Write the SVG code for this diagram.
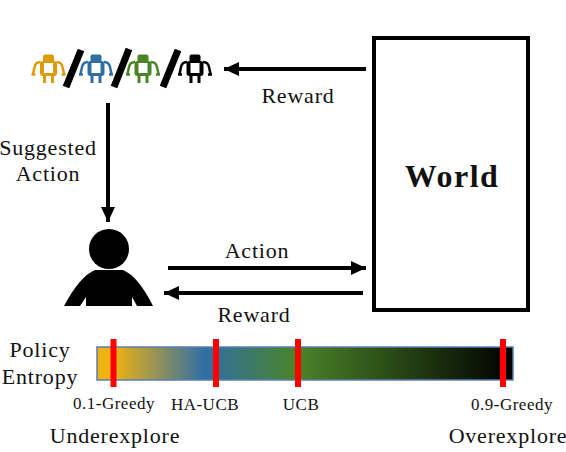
<svg xmlns="http://www.w3.org/2000/svg" width="566" height="452" viewBox="0 0 566 452">
<style>
text{font-family:"Liberation Serif","DejaVu Serif",serif;fill:#111}
.l{font-size:22px;letter-spacing:.8px;text-anchor:middle}
.s{font-size:17px;letter-spacing:.5px;text-anchor:middle}
.c{stroke:#000;stroke-width:4;fill:none}
.t{stroke:#f00;stroke-width:6}
.sl{stroke:#000;stroke-width:7}
.rb{fill:currentColor}
.ra{fill:none;stroke:currentColor;stroke-width:2.500}
</style>
<defs>
<marker id="a" markerUnits="userSpaceOnUse" markerWidth="16" markerHeight="16" refX="15" refY="8" orient="auto"><path d="M0 1L15 8L0 15Z" fill="#000"/></marker>
<linearGradient id="g" x1="0" x2="1" y1="0" y2="0">
<stop offset="0" stop-color="#eeb211"/><stop offset=".04" stop-color="#eeb211"/><stop offset=".26" stop-color="#2f6fa6"/><stop offset=".48" stop-color="#4b8428"/><stop offset="1" stop-color="#000"/>
</linearGradient>
<g id="robot">
<rect class="rb" x="-5.500" y="-14.500" width="11" height="9" rx="2"/>
<rect class="rb" x="-8.500" y="-8" width="17" height="15" rx="3"/>
<rect x="-4.500" y="-6" width="9" height="10" fill="#fff"/>
<rect class="rb" x="-5.500" y="6" width="3" height="8"/>
<rect class="rb" x="2.500" y="6" width="3" height="8"/>
<path class="ra" d="M-8-7Q-13-7-14-2L-15.500 5M8-7Q13-7 14-2L15.500 5"/>
<path class="ra" d="M-17 5.500H-13M13 5.500H17"/>
</g>
</defs>
<g id="connectors">
<path class="c" d="M366 69H224" marker-end="url(#a)"/>
<path class="c" d="M108 103V222" marker-end="url(#a)"/>
<path class="c" d="M168 268H366" marker-end="url(#a)"/>
<path class="c" d="M363 293H164" marker-end="url(#a)"/>
</g>
<g id="agents">
<use href="#robot" x="48.500" y="69" color="#dc9c08"/>
<use href="#robot" x="96" y="69" color="#2f6fa6"/>
<use href="#robot" x="143" y="69" color="#4b8428"/>
<use href="#robot" x="195" y="69" color="#000"/>
<path class="sl" d="M81 50L66 87M129 49L114 87M178 50L163 87"/>
</g>
<g id="world">
<rect x="374" y="38" width="154" height="272" fill="#fff" stroke="#000" stroke-width="4"/>
<text x="452" y="187" text-anchor="middle" style="font-size:32px;font-weight:bold;letter-spacing:1.500px">World</text>
</g>
<g id="human">
<circle cx="109" cy="249" r="20"/>
<path d="M64 306Q80 276 95 270H123Q138 276 153 306H137L132 297V306H86V297L80 306Z"/>
</g>
<g id="labels">
<text class="l" x="298" y="103">Reward</text>
<text class="l" x="48" y="155">Suggested</text>
<text class="l" x="48" y="181">Action</text>
<text class="l" x="257" y="258">Action</text>
<text class="l" x="254" y="322">Reward</text>
<text class="l" x="40" y="357">Policy</text>
<text class="l" x="40" y="384">Entropy</text>
</g>
<g id="entropy-bar">
<rect x="97" y="347" width="416" height="33" fill="url(#g)" stroke="#5b7db5" stroke-width="1.5"/>
<path class="t" d="M113.500 339V387M216 339V387M298 339V387M503 339V387"/>
<text class="s" x="114" y="409">0.1-Greedy</text>
<text class="s" x="205" y="410">HA-UCB</text>
<text class="s" x="301" y="410">UCB</text>
<text class="s" x="512" y="410">0.9-Greedy</text>
<text class="l" x="115" y="443">Underexplore</text>
<text class="l" x="508" y="443">Overexplore</text>
</g>
</svg>
